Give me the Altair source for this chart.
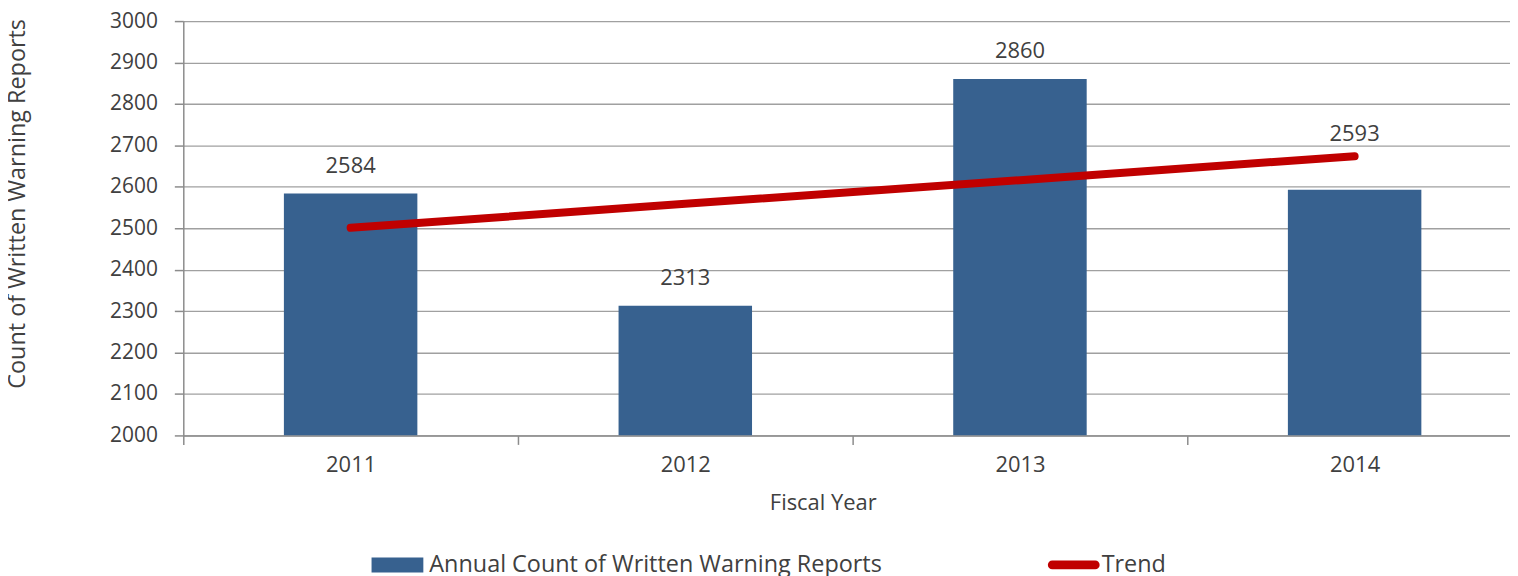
import altair as alt
import pandas as pd

years = ["2011", "2012", "2013", "2014"]
counts = [2584, 2313, 2860, 2593]
trend = [2501, 2559, 2616, 2674]
label_on_trend = [False, False, False, True]
y_ticks = [2000, 2100, 2200, 2300, 2400, 2500, 2600, 2700, 2800, 2900, 3000]

bar_name = "Annual Count of Written Warning Reports"
trend_name = "Trend"

FONT = "Open Sans"
TXT = "#404040"
BAR = "#37618F"
RED = "#C00000"

bars_df = pd.DataFrame({"year": years, "count": counts, "series": bar_name,
                        "trend": trend, "on_trend": label_on_trend})
trend_df = pd.DataFrame({"year": years, "trend": trend, "tseries": trend_name})

xscale = alt.Scale(domain=years, range=[0, 1344], paddingInner=0, paddingOuter=0)
yscale = alt.Scale(domain=[2000, 3000], nice=False, zero=False)

xaxis = alt.Axis(title="Fiscal Year", labelAngle=0, tickBand="extent", tickSize=9,
                 labelPadding=10, labelFontSize=22, titleFontSize=22,
                 titleX=642, titleY=67, titleBaseline="middle",
                 titleAlign="center", grid=False)
yaxis = alt.Axis(title="Count of Written Warning Reports", values=y_ticks, tickSize=9,
                 format="d", labelPadding=17, labelFontSize=21, titleFontSize=23.5,
                 titleX=-166, titleY=183, titleAngle=270,
                 titleAlign="center", titleBaseline="middle", grid=True)

bar_sym = "M-1,-0.29H1V0.29H-1Z"
cap_sym = "M-0.83,-0.17H0.83A0.17,0.17 0 0 1 0.83,0.17H-0.83A0.17,0.17 0 0 1 -0.83,-0.17Z"

bars = alt.Chart(bars_df).mark_bar(size=134, clip=True).encode(
    x=alt.X("year:N", scale=xscale, axis=xaxis),
    y=alt.Y("count:Q", scale=yscale, axis=yaxis),
    y2=alt.datum(2000),
    color=alt.Color("series:N", scale=alt.Scale(domain=[bar_name], range=[BAR]),
                    legend=alt.Legend(orient="none", legendX=189, legendY=520, title=None,
                                      direction="horizontal", symbolType=bar_sym,
                                      symbolSize=2704, symbolStrokeWidth=0,
                                      symbolOpacity=1, labelOffset=6)),
)

line = alt.Chart(trend_df).mark_line(strokeWidth=8, strokeCap="round").encode(
    x=alt.X("year:N", scale=xscale),
    y=alt.Y("trend:Q", scale=yscale),
    stroke=alt.Stroke("tseries:N", scale=alt.Scale(domain=[trend_name], range=[RED]),
                      legend=alt.Legend(orient="none", legendX=868, legendY=520, title=None,
                                        direction="horizontal", symbolType=cap_sym,
                                        symbolSize=2704, symbolStrokeWidth=0,
                                        symbolFillColor=RED, symbolOpacity=1, labelOffset=2)),
)

labels_bar = alt.Chart(bars_df).transform_filter("!datum.on_trend").mark_text(
    dy=-28, font=FONT, fontSize=22, color=TXT).encode(
    x=alt.X("year:N", scale=xscale),
    y=alt.Y("count:Q", scale=yscale),
    text=alt.Text("count:Q"),
)
labels_trend = alt.Chart(bars_df).transform_filter("datum.on_trend").mark_text(
    dy=-22, font=FONT, fontSize=22, color=TXT).encode(
    x=alt.X("year:N", scale=xscale),
    y=alt.Y("trend:Q", scale=yscale),
    text=alt.Text("count:Q"),
)

chart = alt.layer(bars, line, labels_bar, labels_trend).resolve_scale(
    color="independent", stroke="independent"
).properties(
    width=1332, height=416,
    autosize=alt.AutoSizeParams(type="none"),
    padding={"left": 176, "top": 12, "right": 0, "bottom": 140},
    background="white",
).configure_view(stroke=None).configure_axis(
    labelFont=FONT, titleFont=FONT,
    labelColor=TXT, titleColor=TXT, titleFontWeight="normal",
    domainColor="#8C8C8C", tickColor="#8C8C8C", gridColor="#A0A0A0",
    domainWidth=1.5, tickWidth=1.5, gridWidth=1.3,
).configure_legend(
    labelFont=FONT, labelFontSize=23.5, labelColor=TXT, labelLimit=600,
)

chart.save("out.html", embed_options={"renderer": "svg", "actions": False})
